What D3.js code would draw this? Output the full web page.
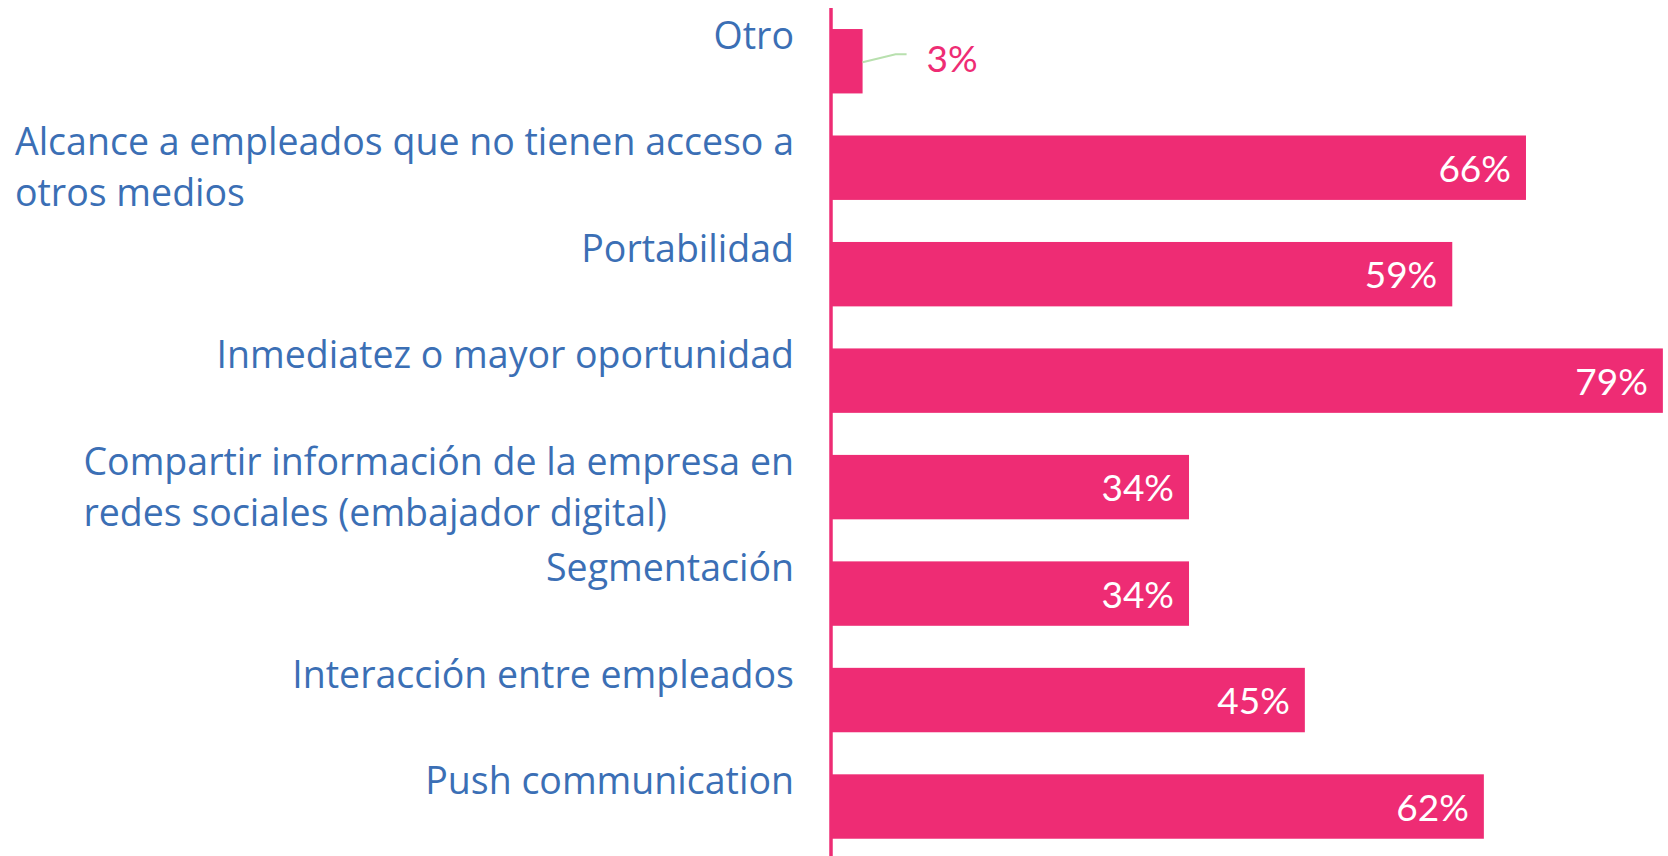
<html>
<meta charset="utf-8">
<script src="https://cdn.jsdelivr.net/npm/d3@7"></script>
<style>
body{ margin:0; background:#fff; }
.cat{ fill:#3B6FB5; font-family:"Open Sans", Lato, sans-serif; font-size:37.5px; }
.val{ font-family:Lato, "Open Sans", sans-serif; font-size:37px; }
</style>
<body>
<div id="chartDiv"></div>
<script>
// categories, top to bottom
var categories = ["Otro",
                  "Alcance a empleados que no tienen acceso a\notros medios",
                  "Portabilidad",
                  "Inmediatez o mayor oportunidad",
                  "Compartir información de la empresa en\nredes sociales (embajador digital)",
                  "Segmentación",
                  "Interacción entre empleados",
                  "Push communication"];
var values = [3, 66, 59, 79, 34, 34, 45, 62];
var valueLabels = ["3%", "66%", "59%", "79%", "34%", "34%", "45%", "62%"];

var barCol = "#EE2C74",
    textCol = "#3B6FB5",
    leaderCol = "#B8E0AE";

var width = 1668, height = 856;
var axisX = 831,
    labelRight = 794;

var svg = d3.select("#chartDiv").append("svg").attr("width",width).attr("height",height);

var x = d3.scaleLinear().domain([0,100]).range([axisX, axisX + 1053]);
var y = d3.scaleBand().domain(categories).range([8, 8 + 8*106.47])
          .paddingInner(0.395).paddingOuter(0.1975);

var data = categories.map(function(c,i){ return {cat:c, val:values[i], lab:valueLabels[i]}; });

// bars
svg.selectAll(".bar").data(data).enter()
   .append("rect")
   .attr("class","bar")
   .attr("x", x(0))
   .attr("y", function(d){ return y(d.cat); })
   .attr("width", function(d){ return x(d.val) - x(0); })
   .attr("height", y.bandwidth())
   .style("fill", barCol);

// axis line
svg.append("line")
   .attr("x1", axisX).attr("x2", axisX)
   .attr("y1", 8).attr("y2", height)
   .style("stroke", barCol).style("stroke-width", 3.5);

// category labels: block is right aligned, lines inside left aligned
var cats = svg.selectAll(".cat").data(data).enter()
   .append("text")
   .attr("class","cat")
   .attr("y", function(d){ return y(d.cat) + 20; });

cats.selectAll("tspan").data(function(d){ return d.cat.split("\n"); }).enter()
   .append("tspan")
   .attr("dy", function(d,i){ return i == 0 ? 0 : 51; })
   .text(function(d){ return d; });

cats.each(function(){
  var spans = d3.select(this).selectAll("tspan");
  var w = 0;
  spans.each(function(){ w = Math.max(w, this.getComputedTextLength()); });
  spans.attr("x", labelRight - w);
});

// value labels
svg.selectAll(".val").data(data).enter()
   .append("text")
   .attr("class","val")
   .attr("text-anchor", function(d){ return d.val < 10 ? "start" : "end"; })
   .attr("x", function(d){ return d.val < 10 ? x(d.val) + 64 : x(d.val) - 15; })
   .attr("y", function(d){ return y(d.cat) + y.bandwidth()/2 + (d.val < 10 ? 11 : 14); })
   .style("fill", function(d){ return d.val < 10 ? barCol : "white"; })
   .text(function(d){ return d.lab; });

// leader line for the small bar
var small = data.filter(function(d){ return d.val < 10; });
svg.selectAll(".leader").data(small).enter()
   .append("polyline")
   .attr("class","leader")
   .attr("points", function(d){
     var cy = y(d.cat) + y.bandwidth()/2;
     return [[x(d.val), cy+1],[x(d.val)+33, cy-7],[x(d.val)+44, cy-7]].join(" ");
   })
   .style("fill","none")
   .style("stroke", leaderCol)
   .style("stroke-width", 2);
</script>
</body>
</html>
